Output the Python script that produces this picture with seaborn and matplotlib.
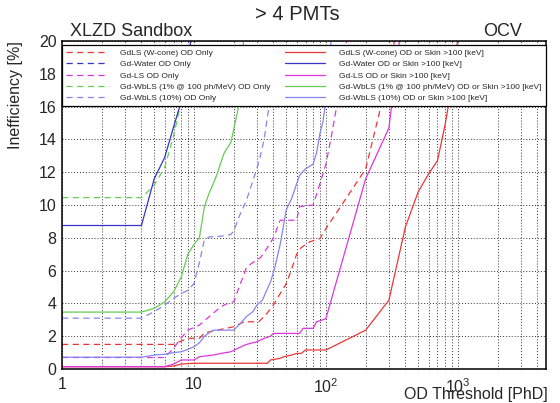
import matplotlib
matplotlib.use("Agg")
import matplotlib.pyplot as plt
import seaborn as sns
from matplotlib.lines import Line2D
from matplotlib.ticker import FixedLocator, FixedFormatter, MultipleLocator, NullFormatter

# ---------------- data ----------------
# OD Only (dashed)
gdls_od_x = [1, 7, 8, 9, 11, 12, 15, 18, 20, 24, 31, 35, 40, 45, 50, 55, 60, 65, 75, 90, 100, 200, 300, 400]
gdls_od_y = [1.5, 1.5, 1.7, 1.87, 1.87, 2.2, 2.37, 2.5, 2.58, 2.88, 2.88, 3.3, 3.9, 4.6, 5.2, 6.1, 7.0, 7.4, 7.75, 7.95, 8.56, 12.2, 18.0, 24.0]

gdwater_od_x = []
gdwater_od_y = []

gdlsl_od_x = [1, 6, 7, 8, 9, 11, 14, 16, 18, 20, 22, 25, 28, 32, 36, 40, 45, 60, 63, 80, 90, 100, 110, 123, 135, 145]
gdlsl_od_y = [0.7, 0.7, 1.26, 1.9, 2.37, 2.68, 3.4, 3.8, 4.0, 4.1, 5.0, 6.2, 6.5, 6.8, 7.4, 8.0, 9.07, 9.07, 9.9, 10.0, 11.3, 12.5, 14.2, 16.4, 18.5, 20.3]

wbls1_od_x = [1, 4, 5, 6, 7, 8, 9, 10]
wbls1_od_y = [10.45, 10.45, 11.2, 12.3, 14.2, 16.3, 19.0, 21.5]

wbls10_od_x = [1, 4, 5, 6, 7, 8, 9, 10, 11, 12, 13, 16, 19, 20, 22, 25, 28, 31, 34, 37, 40, 43]
wbls10_od_y = [3.1, 3.1, 3.5, 3.9, 4.3, 4.6, 4.8, 5.2, 6.5, 7.9, 8.05, 8.1, 8.2, 8.4, 9.3, 10.3, 11.5, 12.6, 14.0, 16.0, 18.5, 20.5]

# OD or Skin >100 keV (solid)
gdls_skin_x = [1, 6, 7, 8, 10, 36, 38, 45, 48, 55, 60, 65, 70, 100, 200, 300, 400, 500, 600, 700, 800, 900, 1000]
gdls_skin_y = [0.14, 0.14, 0.18, 0.3, 0.35, 0.35, 0.55, 0.65, 0.75, 0.85, 0.95, 0.95, 1.16, 1.16, 2.37, 4.2, 8.66, 10.8, 11.9, 12.7, 14.9, 17.3, 20.2]

gdwater_skin_x = [1, 4, 5, 6, 7, 8, 9, 10]
gdwater_skin_y = [8.75, 8.75, 11.6, 12.9, 14.75, 16.3, 19.0, 21.0]

gdlsl_skin_x = [1, 6, 7, 8, 10, 11, 14, 16, 19, 22, 25, 30, 34, 38, 40, 63, 67, 80, 85, 95, 100, 200, 300, 400]
gdlsl_skin_y = [0.14, 0.14, 0.3, 0.55, 0.55, 0.75, 0.85, 0.95, 1.05, 1.3, 1.5, 1.66, 1.87, 2.0, 2.17, 2.17, 2.48, 2.48, 2.88, 3.0, 3.08, 11.6, 14.7, 23.0]

wbls1_skin_x = [1, 4, 5, 6, 7, 8, 9, 10, 11, 12, 13, 14, 15, 16, 17, 19, 20, 21, 22, 23, 24]
wbls1_skin_y = [3.47, 3.47, 3.7, 4.1, 4.7, 5.6, 7.0, 7.6, 8.0, 9.9, 10.7, 11.3, 11.9, 12.6, 13.2, 13.8, 14.6, 15.4, 16.2, 18.5, 20.5]

wbls10_skin_x = [1, 4, 5, 6, 7, 8, 9, 10, 11, 12, 13, 14, 20, 22, 25, 28, 30, 33, 36, 38, 41, 45, 47, 50, 55, 60, 63, 70, 80, 85, 90, 95, 100, 105, 110]
wbls10_skin_y = [0.72, 0.72, 0.85, 0.9, 1.0, 1.05, 1.2, 1.36, 1.6, 2.0, 2.2, 2.37, 2.37, 2.7, 3.2, 3.5, 3.9, 4.2, 4.9, 5.3, 6.2, 7.6, 8.46, 9.7, 10.4, 11.3, 11.8, 12.2, 12.5, 13.2, 14.35, 15.1, 16.4, 18.3, 20.3]

labels_od = ["GdLS (W-cone) OD Only", "Gd-Water OD Only", "Gd-LS OD Only",
             "Gd-WbLS (1% @ 100 ph/MeV) OD Only", "Gd-WbLS (10%) OD Only"]
labels_skin = ["GdLS (W-cone) OD or Skin >100 [keV]", "Gd-Water OD or Skin >100 [keV]",
               "Gd-LS OD or Skin >100 [keV]", "Gd-WbLS (1% @ 100 ph/MeV) OD or Skin >100 [keV]",
               "Gd-WbLS (10%) OD or Skin >100 [keV]"]
x_ticklabels = ["1", "10", r"$10^{2}$", r"$10^{3}$"]
y_ticks = [0, 2, 4, 6, 8, 10, 12, 14, 16, 18, 20]

# ---------------- style ----------------
colors = ["#ee3535", "#3535cc", "#dd35dd", "#66cc55", "#8585ee"]

sns.set_theme(style="white")
plt.rcParams['font.family'] = ['Liberation Sans', 'DejaVu Sans']
plt.rcParams['mathtext.fontset'] = 'custom'
plt.rcParams['mathtext.rm'] = 'Liberation Sans'
plt.rcParams['mathtext.it'] = 'Liberation Sans:italic'

W, H = 560, 403
fig = plt.figure(figsize=(W / 100, H / 100), dpi=100)
ax = fig.add_axes([62 / W, 1 - 369 / H, (546 - 62) / W, (369 - 41) / H])
ax.set_xscale('log')

od_series = [(gdls_od_x, gdls_od_y), (gdwater_od_x, gdwater_od_y), (gdlsl_od_x, gdlsl_od_y),
             (wbls1_od_x, wbls1_od_y), (wbls10_od_x, wbls10_od_y)]
skin_series = [(gdls_skin_x, gdls_skin_y), (gdwater_skin_x, gdwater_skin_y), (gdlsl_skin_x, gdlsl_skin_y),
               (wbls1_skin_x, wbls1_skin_y), (wbls10_skin_x, wbls10_skin_y)]

dash = (5, 3.5)
for (xs, ys), c in zip(od_series, colors):
    if len(xs):
        sns.lineplot(x=xs, y=ys, ax=ax, color=c, linewidth=0.9, dashes=dash,
                     estimator=None, sort=False, legend=False)
for (xs, ys), c in zip(skin_series, colors):
    if len(xs):
        sns.lineplot(x=xs, y=ys, ax=ax, color=c, linewidth=0.9,
                     estimator=None, sort=False, legend=False)

ax.set_xlim(1, 4650)
ax.set_ylim(0, 20)

# ticks
ax.xaxis.set_major_locator(FixedLocator([1, 10, 100, 1000]))
ax.xaxis.set_major_formatter(FixedFormatter(x_ticklabels))
minors = [m * d for d in (1, 10, 100, 1000) for m in range(2, 10) if m * d < 4650]
ax.xaxis.set_minor_locator(FixedLocator(minors))
ax.xaxis.set_minor_formatter(NullFormatter())
ax.yaxis.set_major_locator(FixedLocator(y_ticks))
ax.yaxis.set_minor_locator(MultipleLocator(0.4))
ax.tick_params(axis='both', which='both', direction='in', color='black', width=0.9)
ax.tick_params(axis='y', which='major', length=8, labelsize=11.5, pad=4)
ax.tick_params(axis='y', which='minor', length=4)
ax.tick_params(axis='x', which='major', length=9, labelsize=11.5, pad=6)
ax.tick_params(axis='x', which='minor', length=5)

ax.grid(True, which='major', axis='both', color='#333333', linestyle=(0, (1, 2)), linewidth=0.7)
ax.grid(True, which='minor', axis='x', color='#333333', linestyle=(0, (1, 2)), linewidth=0.7)
for s in ax.spines.values():
    s.set_color('black')
    s.set_linewidth(1.1)

# legend
handles = [Line2D([], [], color=c, linewidth=0.9, dashes=dash) for c in colors] + \
          [Line2D([], [], color=c, linewidth=0.9) for c in colors]
leg = ax.legend(handles, labels_od + labels_skin, ncol=2, loc='upper left',
                bbox_to_anchor=(0.0, 0.80, 1.0, 0.188), mode='expand',
                fontsize=6, frameon=True, fancybox=False, framealpha=1,
                edgecolor='black', handlelength=4.8, handletextpad=1.7,
                labelspacing=0.42, borderaxespad=0.0, borderpad=0.5, columnspacing=1.0)
leg.get_frame().set_linewidth(0.9)
leg.set_zorder(10)

# texts
ax.set_ylabel("Inefficiency [%]", fontsize=11.5, ha='right', y=1.0, labelpad=11)
fig.text(548 / W, 1 - 395 / H, "OD Threshold [PhD]", fontsize=11.5, ha='right', va='center')
fig.text(297 / W, 1 - 15 / H, "> 4 PMTs", fontsize=14.5, ha='center', va='center')
fig.text(70 / W, 1 - 31 / H, "XLZD Sandbox", fontsize=13, ha='left', va='center')
fig.text(522 / W, 1 - 31 / H, "OCV", fontsize=13, ha='right', va='center')

fig.savefig("out.png", dpi=100)
